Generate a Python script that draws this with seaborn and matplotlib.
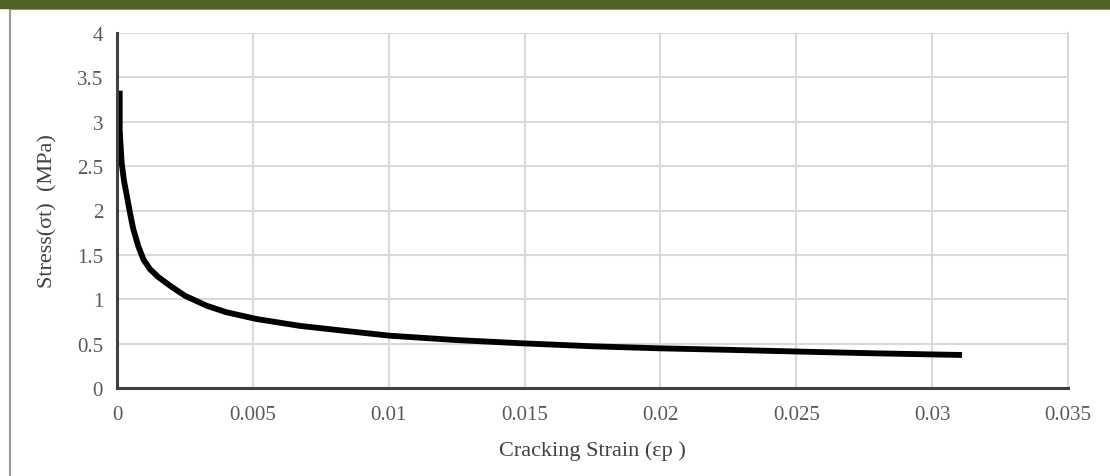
import matplotlib
matplotlib.use("Agg")
import matplotlib.pyplot as plt
import seaborn as sns
import pandas as pd
from matplotlib.lines import Line2D
from matplotlib.patches import Rectangle

strain = [0.0001, 0.0001, 0.00017, 0.00026, 0.00036, 0.00048, 0.0006, 0.00078,
          0.00097, 0.00121, 0.00152, 0.00201, 0.0025, 0.0033, 0.00403, 0.00514,
          0.00673, 0.0085, 0.01005, 0.0125, 0.01495, 0.0175, 0.01998, 0.0225,
          0.02514, 0.028, 0.0311]
stress = [3.35, 2.9, 2.54, 2.33, 2.17, 1.97, 1.79, 1.60,
          1.45, 1.34, 1.25, 1.14, 1.04, 0.927, 0.853, 0.777,
          0.70, 0.64, 0.589, 0.54, 0.503, 0.47, 0.447, 0.43,
          0.41, 0.39, 0.372]
xticks = [0, 0.005, 0.01, 0.015, 0.02, 0.025, 0.03, 0.035]
xticklabels = ["0", "0.005", "0.01", "0.015", "0.02", "0.025", "0.03", "0.035"]
yticks = [0, 0.5, 1, 1.5, 2, 2.5, 3, 3.5, 4]
yticklabels = ["0", "0.5", "1", "1.5", "2", "2.5", "3", "3.5", "4"]

sns.set_theme(style="whitegrid")
plt.rcParams['font.family'] = ['Liberation Serif', 'DejaVu Serif']

df = pd.DataFrame({"strain": strain, "stress": stress})

fig = plt.figure(figsize=(11.1, 4.77), dpi=100)
ax = fig.add_axes([117/1110, 1 - 389/477, (1068 - 117)/1110, (389 - 34)/477])

sns.lineplot(data=df, x="strain", y="stress", ax=ax, color="black",
             linewidth=4.2, sort=False, estimator=None,
             solid_joinstyle="round", solid_capstyle="butt")

ax.set_xlim(0, 0.035)
ax.set_ylim(0, 4)
ax.set_xticks(xticks)
ax.set_xticklabels(xticklabels)
ax.set_yticks(yticks)
ax.set_yticklabels(yticklabels)
ax.tick_params(axis='both', labelsize=15, colors="#595959", length=0)
ax.tick_params(axis='x', pad=12)
ax.tick_params(axis='y', pad=10)
ax.grid(True, color="#d9d9d9", linewidth=1.5)
ax.set_facecolor("white")

ax.spines["top"].set_visible(False)
ax.spines["right"].set_color("#d9d9d9")
ax.spines["right"].set_linewidth(1.5)
ax.spines["left"].set_color("#404040")
ax.spines["left"].set_linewidth(2.2)
ax.spines["bottom"].set_color("#404040")
ax.spines["bottom"].set_linewidth(2.2)

ax.set_xlabel("Cracking Strain (εp )", fontsize=16, color="#404040", labelpad=12)
ax.set_ylabel("Stress(σt)  (MPa)", fontsize=16, color="#404040", labelpad=14)

# page decorations
fig.patches.append(Rectangle((0, 1 - 7/477), 1, 7/477, transform=fig.transFigure,
                             color="#4f6228", zorder=5))
fig.patches.append(Rectangle((0, 1 - 9/477), 1, 1.2/477, transform=fig.transFigure,
                             color="#4f6228", zorder=5))
fig.lines.append(Line2D([10/1110, 1], [1 - 10/477, 1 - 10/477], transform=fig.transFigure,
                        color="#9a9a9a", linewidth=1.5))
fig.lines.append(Line2D([10/1110, 10/1110], [0, 1 - 10/477], transform=fig.transFigure,
                        color="#9a9a9a", linewidth=1.5))

fig.savefig("out.png", dpi=100)
